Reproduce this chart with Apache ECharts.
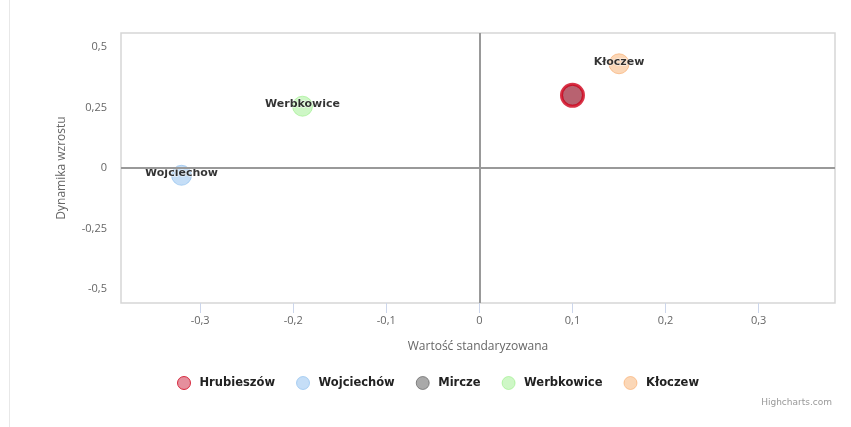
<!DOCTYPE html>
<html>
<head>
<meta charset="utf-8">
<script src="https://cdn.jsdelivr.net/npm/echarts@6/dist/echarts.min.js"></script>
<style>
  html, body { margin: 0; padding: 0; background: #fff; }
  #chart {
    width: 851px;
    height: 427px;
    background: linear-gradient(to right, transparent 9px, #e8e8e8 9px, #e8e8e8 10px, transparent 10px);
  }
</style>
</head>
<body>
<div id="chart"></div>
<script>
// dane
const names = ['Hrubieszów', 'Wojciechów', 'Mircze', 'Werbkowice', 'Kłoczew'];
const xValues = [0.1, -0.32, 0.1, -0.19, 0.15];
const yValues = [0.3, -0.03, 0.3, 0.255, 0.43];
const showLabel = [false, true, false, true, true];
const colors = ['rgba(200,20,50,0.6)', 'rgba(124,181,236,0.55)', 'rgba(90,90,90,0.65)', 'rgba(144,237,125,0.55)', 'rgba(247,163,92,0.55)'];
const borders = ['#d0021b', 'rgba(124,181,236,0.7)', 'rgba(70,70,70,0.7)', 'rgba(144,237,125,0.7)', 'rgba(247,163,92,0.7)'];
const xTicks = [-0.3, -0.2, -0.1, 0, 0.1, 0.2, 0.3];
const yTicks = [-0.5, -0.25, 0, 0.25, 0.5];

const fmt = v => String(v).replace('.', ',');

let myChart;

function buildSeries() {
  return names.map((name, i) => ({
    name: name,
    type: 'scatter',
    z: i === 0 ? 4 : 2,
    symbolSize: i === 0 ? 22 : 20,
    data: [[xValues[i], yValues[i]]],
    itemStyle: {
      color: colors[i],
      borderColor: borders[i],
      borderWidth: i === 0 ? 3 : 1
    },
    label: {
      show: showLabel[i],
      formatter: '{a}',
      position: 'inside',
      offset: [0, -2],
      color: '#000',
      fontFamily: 'DejaVu Sans',
      fontWeight: 'bold',
      fontSize: 11,
      textBorderColor: '#fff',
      textBorderWidth: 1
    },
    markLine: i === 0 ? {
      silent: true,
      symbol: 'none',
      label: { show: false },
      lineStyle: { color: '#999', width: 2, type: 'solid' },
      data: [{ xAxis: 0 }, { yAxis: 0 }]
    } : undefined
  }));
}

function createOption() {
  return {
    animation: false,
    textStyle: { fontFamily: 'Open Sans' },
    title: {
      text: 'Highcharts.com',
      right: 14,
      bottom: 15,
      textStyle: { color: '#999', fontSize: 9, fontWeight: 'normal', fontFamily: 'DejaVu Sans' }
    },
    grid: {
      left: 121,
      right: 16,
      top: 33,
      bottom: 124,
      show: true,
      borderColor: '#d6d6d6',
      borderWidth: 1.5
    },
    legend: {
      data: names.map((name, i) => ({
        name: name,
        itemStyle: { borderWidth: 1, borderColor: borders[i] }
      })),
      bottom: 32,
      left: 172,
      icon: 'circle',
      itemWidth: 13,
      itemHeight: 13,
      itemGap: 21,
      textStyle: {
        color: '#222',
        fontFamily: 'DejaVu Sans',
        fontWeight: 'bold',
        fontSize: 11.5,
        padding: [0, 0, 0, 4]
      }
    },
    xAxis: {
      type: 'value',
      min: -0.385,
      max: 0.382,
      name: 'Wartość standaryzowana',
      nameLocation: 'middle',
      nameGap: 38,
      nameTextStyle: { color: '#666', fontSize: 12 },
      axisLine: { show: false, onZero: false },
      splitLine: { show: false },
      axisTick: { show: true, customValues: xTicks, length: 10, lineStyle: { color: '#ccd6eb' } },
      axisLabel: { customValues: xTicks, color: '#666', fontSize: 11, margin: 12, formatter: fmt }
    },
    yAxis: {
      type: 'value',
      min: -0.557,
      max: 0.557,
      name: 'Dynamika wzrostu',
      nameLocation: 'middle',
      nameGap: 53,
      nameTextStyle: { color: '#666', fontSize: 12 },
      axisLine: { show: false, onZero: false },
      axisTick: { show: false },
      splitLine: { show: false },
      axisLabel: { customValues: yTicks, color: '#666', fontSize: 11, margin: 14, formatter: fmt }
    },
    series: buildSeries()
  };
}

function initChart() {
  myChart = echarts.init(document.getElementById('chart'));
  myChart.setOption(createOption());
}

document.addEventListener('DOMContentLoaded', initChart);
</script>
</body>
</html>
